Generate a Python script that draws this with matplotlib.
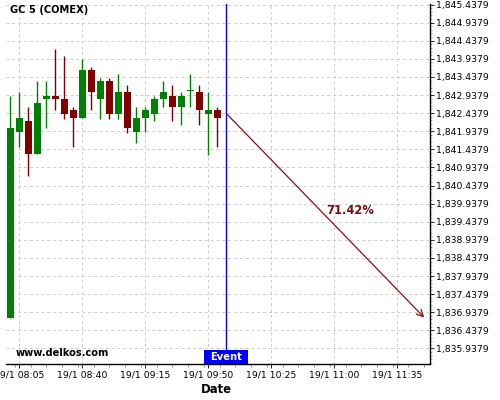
import matplotlib
matplotlib.use("Agg")
import matplotlib.pyplot as plt
import matplotlib.dates as mdates
from matplotlib.ticker import FixedLocator, MultipleLocator, FuncFormatter
from matplotlib.patches import Rectangle
from datetime import datetime

title = "GC 5 (COMEX)"
times = ["08:00", "08:05", "08:10", "08:15", "08:20", "08:25", "08:30", "08:35",
         "08:40", "08:45", "08:50", "08:55", "09:00", "09:05", "09:10", "09:15",
         "09:20", "09:25", "09:30", "09:35", "09:40", "09:45", "09:50", "09:55"]
opens = [1836.79, 1841.92, 1842.22, 1841.32, 1842.84, 1842.90, 1842.83, 1842.52,
         1842.31, 1843.63, 1842.84, 1843.32, 1842.42, 1843.02, 1841.92, 1842.31,
         1842.42, 1842.84, 1842.90, 1842.61, 1843.04, 1843.02, 1842.42, 1842.52]
highs = [1842.90, 1843.01, 1842.60, 1843.32, 1843.32, 1844.20, 1844.01, 1842.60,
         1843.92, 1843.70, 1843.40, 1843.40, 1843.51, 1843.21, 1842.60, 1842.60,
         1842.90, 1843.32, 1843.21, 1843.01, 1843.51, 1843.21, 1843.01, 1842.60]
lows = [1836.78, 1841.50, 1840.70, 1841.30, 1842.03, 1842.51, 1842.28, 1841.50,
        1842.29, 1842.51, 1842.28, 1842.28, 1842.28, 1841.90, 1841.60, 1841.92,
        1842.21, 1842.60, 1842.21, 1842.10, 1842.60, 1842.10, 1841.29, 1841.50]
closes = [1842.03, 1842.30, 1841.32, 1842.72, 1842.90, 1842.84, 1842.42, 1842.31,
          1843.63, 1843.03, 1843.32, 1842.42, 1843.02, 1842.03, 1842.30, 1842.52,
          1842.83, 1843.02, 1842.61, 1842.90, 1843.05, 1842.53, 1842.52, 1842.31]

event_time = "10:00"
arrow_start = ("10:00", 1842.43)
arrow_end = ("11:50", 1836.79)
pct_label = "71.42%"
pct_pos = ("11:09", 1839.76)
xtick_times = ["08:05", "08:40", "09:15", "09:50", "10:25", "11:00", "11:35"]
ytick_values = [1835.9379 + 0.5 * i for i in range(20)]
x_limits = ("07:57:36", "11:53:12")
y_limits = (1835.507, 1845.452)

DAY = "2021-01-19 "


def dt(s):
    fmt = "%Y-%m-%d %H:%M:%S" if s.count(":") == 2 else "%Y-%m-%d %H:%M"
    return mdates.date2num(datetime.strptime(DAY + s, fmt))


GREEN = "#008000"
RED = "#800000"

fig = plt.figure(figsize=(5, 4), dpi=100)
ax = fig.add_axes([0.012, 0.09, 0.848, 0.90])

xs = [dt(t) for t in times]
minute = 1 / 1440.0
for x, o, h, l, c in zip(xs, opens, highs, lows, closes):
    col = GREEN if c >= o else RED
    ax.vlines(x, l, h, color=col, lw=1.0, zorder=3)
    bot = min(o, c)
    hgt = max(abs(c - o), 0.03)
    ax.bar(x, hgt, bottom=bot, width=3.9 * minute, color=col, zorder=4, linewidth=0)

# event line
ex = dt(event_time)
ax.axvline(ex, color="#0000ff", lw=1.0, zorder=5)

# arrow
ax.annotate("", xy=(dt(arrow_end[0]), arrow_end[1]),
            xytext=(dt(arrow_start[0]), arrow_start[1]),
            arrowprops=dict(arrowstyle="->", color="#8b1010", lw=0.9,
                            mutation_scale=12, shrinkA=0, shrinkB=0),
            zorder=6)
ax.text(dt(pct_pos[0]), pct_pos[1], pct_label, color="#7a0e0e",
        fontsize=8.3, fontweight="bold", ha="center", va="center", zorder=7)

ax.set_xlim(dt(x_limits[0]), dt(x_limits[1]))
ax.set_ylim(*y_limits)

# x axis ticks
ax.xaxis.set_major_locator(FixedLocator([dt(t) for t in xtick_times]))
ax.xaxis.set_major_formatter(mdates.DateFormatter("%-d/%-m %H:%M"))
ax.xaxis.set_minor_locator(MultipleLocator(8.75 * minute))
ax.tick_params(axis="x", which="major", labelsize=6.7, length=3, width=0.6,
               colors="#000000", pad=2)
ax.tick_params(axis="x", which="minor", length=2, width=0.5, colors="#777777")

# y axis ticks on right
ax.yaxis.tick_right()
ax.yaxis.set_major_locator(FixedLocator(ytick_values))
ax.yaxis.set_major_formatter(FuncFormatter(lambda v, p: f"{v:,.4f}"))
ax.yaxis.set_minor_locator(FixedLocator([1835.5379 + 0.1 * i for i in range(100)]))
ax.tick_params(axis="y", which="major", labelsize=6.7, length=3, width=0.6, pad=1)
ax.tick_params(axis="y", which="minor", length=1.5, width=0.5, colors="#888888")

for side in ["top", "left"]:
    ax.spines[side].set_visible(False)
ax.spines["right"].set_linewidth(1.0)
ax.spines["bottom"].set_linewidth(1.0)

ax.grid(True, which="major", color="#cccccc", linestyle=(0, (3, 3)), lw=0.7, zorder=0)
ax.set_axisbelow(True)

ax.set_xlabel("Date", fontsize=8.4, fontweight="bold", va="center")
ax.xaxis.set_label_coords(0.497, -0.072)

ax.text(0.01, 0.983, title, transform=ax.transAxes, fontsize=7.1,
        fontweight="bold", ha="left", va="center")
ax.text(0.022, 0.03, "www.delkos.com", transform=ax.transAxes, fontsize=7.1,
        fontweight="bold", ha="left", va="center")

# Event label box
box_w = 24.4 * minute
box_h = 0.39
ax.add_patch(Rectangle((ex - box_w / 2, y_limits[0]), box_w, box_h,
                       facecolor="#0000ff", edgecolor="none", zorder=8))
ax.text(ex, y_limits[0] + box_h / 2, "Event", color="white", fontsize=7.2,
        fontweight="bold", ha="center", va="center", zorder=9)

fig.savefig("out.png", dpi=100)
